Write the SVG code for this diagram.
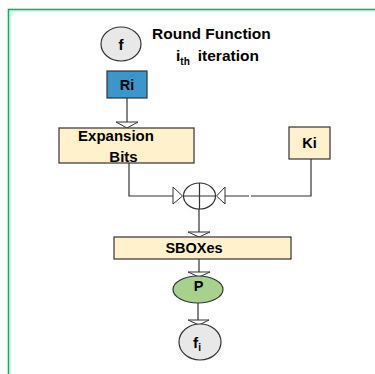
<svg xmlns="http://www.w3.org/2000/svg" width="375" height="374" viewBox="0 0 375 374">
<style>
text{font-family:"Liberation Sans",Arial,sans-serif;font-weight:bold;fill:#000}
.ln{stroke:#333;stroke-width:1.2;fill:none}
.box{stroke:#333;stroke-width:1.2}
.ah{fill:#fff;stroke:#333;stroke-width:1}
</style>
<rect x="8.5" y="9.5" width="380" height="380" fill="#fff" stroke="#00b36b" stroke-width="1.6"/>
<line x1="10" y1="11" x2="380" y2="11" stroke="#9fe3c4" stroke-width="0.8"/>
<line x1="10" y1="11" x2="10" y2="380" stroke="#9fe3c4" stroke-width="0.8"/>
<g id="connectors">
<path class="ln" d="M127 98V125"/>
<polygon class="ah" points="116,122 138,122 127,128"/>
<path class="ln" d="M129 163V196H173"/>
<polygon class="ah" points="173,187 173,204 182.5,196"/>
<path class="ln" d="M311 159V196H251M249 196H225"/>
<polygon class="ah" points="225,187 225,204 216.5,196"/>
<path class="ln" d="M199 209V234"/>
<polygon class="ah" points="188,232 210,232 199,237"/>
<path class="ln" d="M199 259V274"/>
<polygon class="ah" points="188,272 210,272 199,277"/>
<path class="ln" d="M198 303V322"/>
<polygon class="ah" points="188,320 209,320 199,325"/>
</g>
<g id="title">
<ellipse cx="121" cy="44" rx="20" ry="17" fill="#e8e8e8" stroke="#333" stroke-width="1.2"/>
<text x="121" y="50" font-size="15" text-anchor="middle">f</text>
<text x="152" y="39" font-size="15.5">Round Function</text>
<text x="176" y="61" font-size="15.5">i<tspan font-size="10" dy="4">th</tspan><tspan dy="-4" dx="8">iteration</tspan></text>
</g>
<g id="ri">
<rect class="box" x="107" y="71" width="40" height="27" fill="#3b96cc"/>
<text x="127" y="90" font-size="14.5" text-anchor="middle">Ri</text>
</g>
<g id="expansion">
<rect class="box" x="59" y="128" width="135" height="35" fill="#fff1cc"/>
<text x="116" y="141" font-size="15" text-anchor="middle">Expansion</text>
<text x="123.5" y="162" font-size="15" text-anchor="middle">Bits</text>
</g>
<g id="ki">
<rect class="box" x="289" y="127" width="41" height="32" fill="#fff1cc"/>
<text x="309.5" y="148" font-size="14.5" text-anchor="middle">Ki</text>
</g>
<g id="xor">
<ellipse cx="199.5" cy="196" rx="16" ry="13" fill="#fff" stroke="#333" stroke-width="1.2"/>
<path class="ln" d="M183.5 196H215.5M199.5 183V209"/>
</g>
<g id="sboxes">
<rect class="box" x="114" y="237" width="177" height="22" fill="#fff1cc"/>
<text x="194" y="253" font-size="14.5" text-anchor="middle">SBOXes</text>
</g>
<g id="p">
<ellipse cx="198" cy="289.5" rx="25" ry="13.5" fill="#a9d18e" stroke="#333" stroke-width="1.2"/>
<text x="198.5" y="291" font-size="14.5" text-anchor="middle">P</text>
</g>
<g id="fi">
<ellipse cx="200" cy="342" rx="21" ry="18" fill="#e8e8e8" stroke="#333" stroke-width="1.2"/>
<text x="197" y="348" font-size="15.5" text-anchor="middle">f<tspan font-size="10" dy="3">i</tspan></text>
</g>
</svg>
